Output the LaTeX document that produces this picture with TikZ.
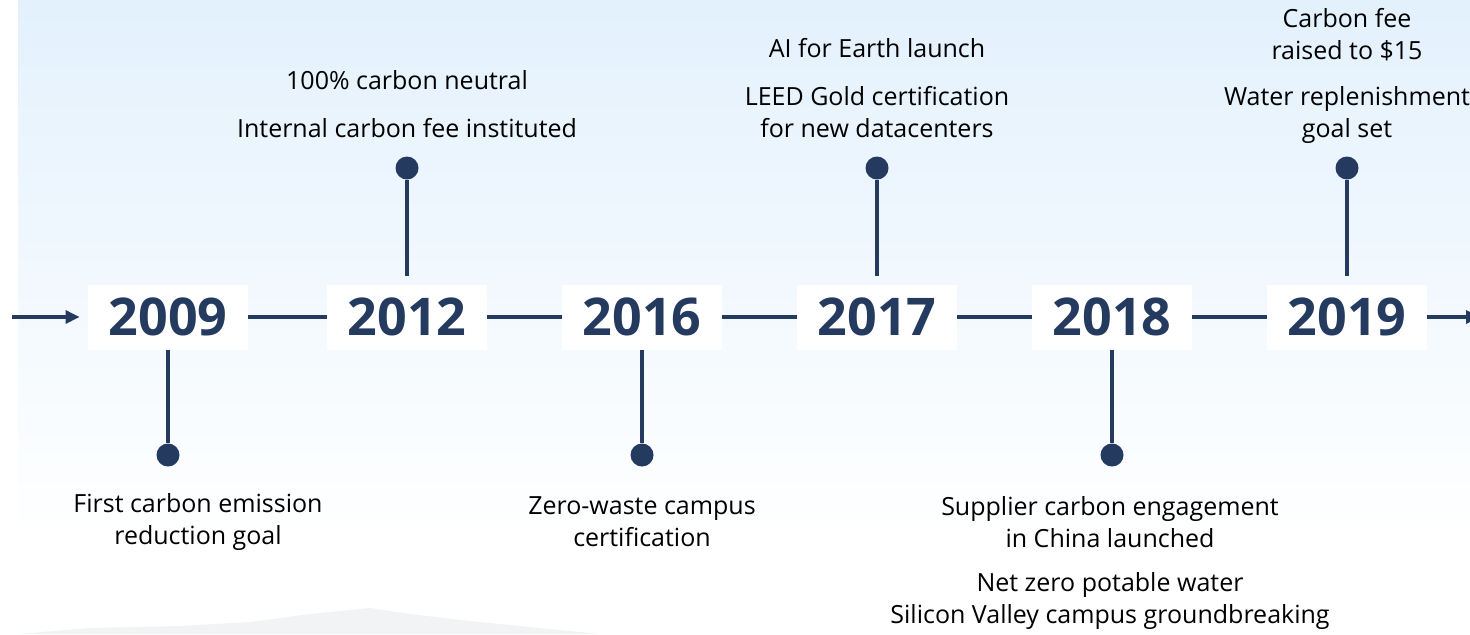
\documentclass[tikz,border=0pt]{standalone}
\usepackage{fontspec}
\setmainfont{Open Sans}
\usetikzlibrary{arrows.meta}
\definecolor{navy}{HTML}{243A5E}
\definecolor{sky}{HTML}{E3F1FD}
\definecolor{hill}{HTML}{DCE2E8}

\begin{document}
\begin{tikzpicture}[x=0.5pt, y=-0.5pt,
  year/.style={fill=white, text=navy, inner sep=0pt, minimum width=80pt,
    minimum height=32.5pt, font=\fontsize{26}{26}\selectfont\bfseries},
  dot/.style={circle, fill=navy, inner sep=0pt, minimum size=11.5pt},
  line/.style={navy, line width=1.6pt},
  stem/.style={navy, line width=2pt},
  note/.style={align=center, inner sep=0pt, font=\fontsize{12.5}{16}\selectfont}]

  % background
  \useasboundingbox (0,0) rectangle (1470,634);
  \fill[white] (0,0) rectangle (1470,634);
  \shade[top color=sky, bottom color=white] (18,0) rectangle (1470,540);
  \fill[hill, opacity=0.4] (18,634) -- (90,628) -- (180,626) -- (250,622)
    -- (310,614) -- (370,608) -- (410,614) -- (470,621) -- (540,628) -- (600,634) -- cycle;

  \node[year] (y09) at (168,317) {2009};
  \node[year] (y12) at (407,317) {2012};
  \node[year] (y16) at (642,317) {2016};
  \node[year] (y17) at (877,317) {2017};
  \node[year] (y18) at (1112,317) {2018};
  \node[year] (y19) at (1347,317) {2019};

  \coordinate (start) at (12,317);
  \coordinate (finish) at (1480,317);

  \draw[line, -{Triangle[length=7pt,width=6.5pt]}, shorten >=4pt] (start) -- (y09);
  \draw[line] (y09)--(y12)--(y16)--(y17)--(y18)--(y19);
  \draw[line, -{Triangle[length=7pt,width=6.5pt]}] (y19) -- (finish);

  \node[dot] (d09) at (168,455) {};
  \node[dot] (d12) at (407,168) {};
  \node[dot] (d16) at (642,455) {};
  \node[dot] (d17) at (877,168) {};
  \node[dot] (d18) at (1112,455) {};
  \node[dot] (d19) at (1347,168) {};

  \draw[stem] (y09.south) -- (d09);
  \draw[stem, shorten >=4pt] (d12) -- (y12.north);
  \draw[stem] (y16.south) -- (d16);
  \draw[stem, shorten >=4pt] (d17) -- (y17.north);
  \draw[stem] (y18.south) -- (d18);
  \draw[stem, shorten >=4pt] (d19) -- (y19.north);

  \node[note] (n09) at (198,522) {First carbon emission\\reduction goal};
  \node[note] (n12a) at (407,80) {100\% carbon neutral};
  \node[note] (n12b) at (407,128) {Internal carbon fee instituted};
  \node[note] (n16) at (642,522) {Zero-waste campus\\certification};
  \node[note] (n17a) at (877,48) {AI for Earth launch};
  \node[note] (n17b) at (877,112) {LEED Gold certification\\for new datacenters};
  \node[note] (n18a) at (1110,522) {Supplier carbon engagement\\in China launched};
  \node[note] (n18b) at (1110,601) {Net zero potable water\\Silicon Valley campus groundbreaking};
  \node[note] (n19a) at (1347,35) {Carbon fee\\raised to \$15};
  \node[note] (n19b) at (1347,115) {Water replenishment\\goal set};

\end{tikzpicture}
\end{document}
